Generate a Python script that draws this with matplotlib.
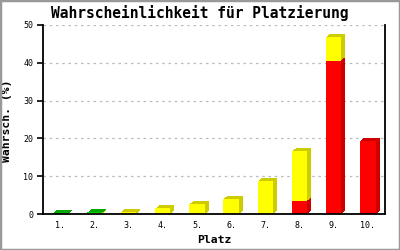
import matplotlib.pyplot as plt
import matplotlib.transforms as mtransforms
from matplotlib.patches import Rectangle

# Platz 1..10, share of probability split by colour
places = ['1.', '2.', '3.', '4.', '5.', '6.', '7.', '8.', '9.', '10.']
red = [0, 0, 0, 0, 0, 0, 0, 3.4, 40.6, 19.4]
yellow = [0, 0.25, 0.6, 1.5, 2.6, 4.0, 8.8, 13.3, 6.3, 0]
green = [0.15, 0.15, 0, 0, 0, 0, 0, 0, 0, 0]
yticks = [0, 10, 20, 30, 40, 50]

mono = 'DejaVu Sans Mono'

fig = plt.figure(figsize=(4, 2.5), dpi=100)
ax = fig.add_axes([0.1075, 0.144, 0.855, 0.756])

x = list(range(1, len(places) + 1))
width = 0.45
# stepped darker copies behind each bar give the 3d top and side
shadows = [mtransforms.offset_copy(ax.transData, fig=fig, x=k, y=0.75 * k, units='dots')
           for k in (1, 2, 3, 4)]

series = [(red, '#ff0000', '#cc0000'),
          (yellow, '#ffff00', '#cccc00'),
          (green, '#00cc00', '#00a800')]
bottom = [0] * len(x)
for vals, front, side in series:
    for tr in shadows:
        ax.bar(x, vals, width, bottom=bottom, color=side, zorder=2,
               transform=tr, linewidth=0)
    ax.bar(x, vals, width, bottom=bottom, color=front, zorder=3, linewidth=0)
    bottom = [b + v for b, v in zip(bottom, vals)]

ax.set_xlim(0.5, 10.5)
ax.set_ylim(0, 50)
ax.set_xticks(x)
ax.set_xticklabels(places, fontfamily=mono, fontsize=6)
ax.set_yticks(yticks)
ax.set_yticklabels([str(t) for t in yticks], fontfamily=mono, fontsize=6)
ax.tick_params(axis='x', length=0, pad=5)
ax.tick_params(axis='y', length=4, width=1.2, pad=3)

for t in yticks[1:]:
    ax.axhline(t, color='#bbbbbb', linestyle=(0, (2, 3)), linewidth=0.9, zorder=1)

ax.spines['top'].set_visible(False)
for s in ['left', 'bottom', 'right']:
    ax.spines[s].set_linewidth(1.3)
    ax.spines[s].set_zorder(4)

fig.text(0.5, 1 - 13 / 250, 'Wahrscheinlichkeit für Platzierung', fontfamily=mono,
         fontsize=10.5, fontweight='bold', ha='center', va='center')
ax.set_xlabel('Platz', fontfamily=mono, fontsize=8.2, fontweight='bold')
ax.xaxis.set_label_coords(0.5, -21 / 189)
ax.set_ylabel('Wahrsch. (%)', fontfamily=mono, fontsize=8.2, fontweight='bold')
ax.yaxis.set_label_coords(-31 / 342, 0.492)

# grey frame round the picture
fig.patches.append(Rectangle((0, 0), 1, 1, transform=fig.transFigure, fill=False,
                             edgecolor='#999999', linewidth=2.5))

fig.savefig('out.png', dpi=100)
